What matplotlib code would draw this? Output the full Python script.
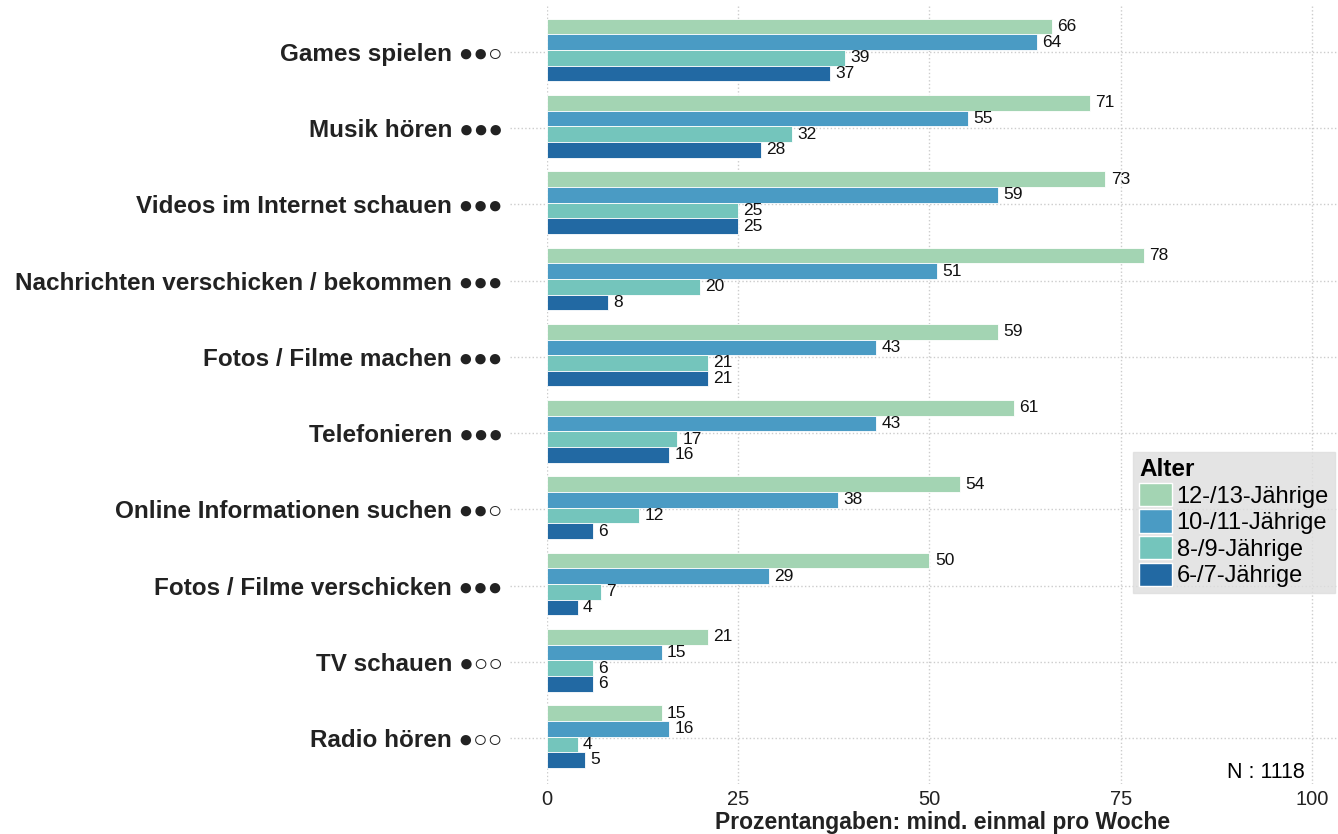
import numpy as np
import matplotlib
matplotlib.use('Agg')
import matplotlib.pyplot as plt
from matplotlib.patches import Patch

plt.rcParams['font.family'] = ['Liberation Sans', 'DejaVu Sans']

categories = ['Games spielen ●●○', 'Musik hören ●●●', 'Videos im Internet schauen ●●●',
              'Nachrichten verschicken / bekommen ●●●', 'Fotos / Filme machen ●●●',
              'Telefonieren ●●●', 'Online Informationen suchen ●●○',
              'Fotos / Filme verschicken ●●●', 'TV schauen ●○○', 'Radio hören ●○○']
groups = ['12-/13-Jährige', '10-/11-Jährige', '8-/9-Jährige', '6-/7-Jährige']
colors = ['#a3d4b3', '#4a9bc4', '#74c5bc', '#2269a3']

age_12_13 = [66, 71, 73, 78, 59, 61, 54, 50, 21, 15]
age_10_11 = [64, 55, 59, 51, 43, 43, 38, 29, 15, 16]
age_8_9 = [39, 32, 25, 20, 21, 17, 12, 7, 6, 4]
age_6_7 = [37, 28, 25, 8, 21, 16, 6, 4, 6, 5]
series = [age_12_13, age_10_11, age_8_9, age_6_7]

xticks = [0, 25, 50, 75, 100]

fig = plt.figure(figsize=(13.38, 8.34), dpi=100)
ax = fig.add_axes([547 / 1338, 1 - 784 / 834, (1338 - 547) / 1338, 778 / 834])

n = len(categories)
ypos = np.arange(n)[::-1]
bh = 0.205
for i, (vals, col) in enumerate(zip(series, colors)):
    yy = ypos + 0.33 - i * bh
    ax.barh(yy, vals, height=bh, color=col, edgecolor='white', linewidth=0.6, zorder=3)
    for y, v in zip(yy, vals):
        ax.text(v + 0.7, y, str(v), va='center', ha='left', fontsize=12.5, color='#111111', zorder=4)

ax.set_xlim(0, 103.4)
ax.set_ylim(-0.6, n - 0.4)

for y in ypos:
    ax.plot([-4.8, 103.4], [y, y], ls=':', color='#cccccc', lw=1, clip_on=False, zorder=1)
for x in xticks:
    ax.axvline(x, ls=':', color='#cccccc', lw=1, zorder=1)

ax.set_yticks(ypos)
ax.set_yticklabels(categories, fontsize=17.5, fontweight='bold', color='#222222')
ax.set_xticks(xticks)
ax.set_xticklabels([str(x) for x in xticks], fontsize=14.5, color='#222222')
ax.tick_params(length=0, pad=32, axis='y')
ax.tick_params(length=0, pad=4, axis='x')
for s in ax.spines.values():
    s.set_visible(False)

ax.set_xlabel('Prozentangaben: mind. einmal pro Woche', fontsize=16.5, fontweight='bold',
              color='#222222', labelpad=2)

handles = [Patch(facecolor=c, edgecolor='white', label=g) for g, c in zip(groups, colors)]
leg = ax.legend(handles=handles, title='Alter', loc='upper left',
                bbox_to_anchor=(1133 / 1338, 1 - 452 / 834), bbox_transform=fig.transFigure,
                fontsize=17, title_fontproperties={'weight': 'bold', 'size': 17.5},
                frameon=True, fancybox=False, handlelength=1.4, handleheight=1.15,
                handletextpad=0.2, labelspacing=0.08, borderpad=0.25, borderaxespad=0,
                alignment='left')
leg.get_frame().set_facecolor('#dedede')
leg.get_frame().set_edgecolor('#dedede')

fig.text(1305 / 1338, 1 - 772 / 834, 'N : 1118', ha='right', va='center', fontsize=15.5)

fig.savefig('out.png', dpi=100)
